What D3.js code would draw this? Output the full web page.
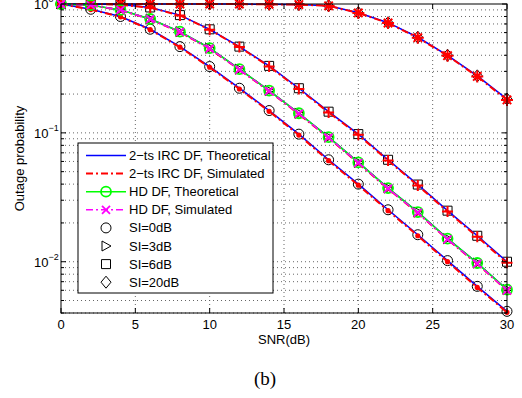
<!DOCTYPE html>
<html>
<head>
<meta charset="utf-8">
<script src="https://cdn.jsdelivr.net/npm/d3@7"></script>
<style>
  body { margin: 0; background: #fff; }
  text { font-family: Arial, "Liberation Sans", Helvetica, sans-serif; }
</style>
</head>
<body>
<div id="chart"></div>
<script>
// SNR points (dB)
const snr = [0, 2, 4, 6, 8, 10, 12, 14, 16, 18, 20, 22, 24, 26, 28, 30];

// 2-ts IRC DF, theoretical, one array per SI level
const ircTheo0 = [1.0, 0.91, 0.80, 0.637, 0.467, 0.327, 0.222, 0.149, 0.0977, 0.0618, 0.040, 0.0253, 0.0162, 0.0102, 0.00644, 0.00412];
const ircTheo3 = [1.0, 0.98, 0.90, 0.765, 0.61, 0.454, 0.312, 0.213, 0.142, 0.0926, 0.059, 0.0373, 0.0243, 0.0151, 0.00977, 0.00607];
const ircTheo6 = [1.0, 1.0, 0.99, 0.94, 0.82, 0.636, 0.467, 0.331, 0.222, 0.146, 0.0978, 0.0618, 0.0397, 0.0249, 0.0159, 0.0100];
const ircTheo20 = [1.0, 1.0, 1.0, 1.0, 1.0, 1.0, 0.999, 0.995, 0.99, 0.97, 0.856, 0.716, 0.552, 0.40, 0.277, 0.183];

// 2-ts IRC DF, simulated
const ircSim0 = [1.0, 0.905, 0.795, 0.632, 0.462, 0.323, 0.219, 0.147, 0.0962, 0.0608, 0.0393, 0.0249, 0.0159, 0.0100, 0.00632, 0.00405];
const ircSim3 = [1.0, 0.978, 0.897, 0.76, 0.605, 0.45, 0.309, 0.211, 0.140, 0.0915, 0.0582, 0.0368, 0.0239, 0.0149, 0.00962, 0.00598];
const ircSim6 = [1.0, 1.0, 0.988, 0.936, 0.815, 0.632, 0.463, 0.328, 0.219, 0.144, 0.0965, 0.0610, 0.0391, 0.0245, 0.0156, 0.0098];
const ircSim20 = [1.0, 1.0, 1.0, 1.0, 1.0, 1.0, 0.999, 0.994, 0.99, 0.968, 0.852, 0.712, 0.548, 0.397, 0.274, 0.180];

// HD DF
const hdTheo = [1.0, 0.98, 0.90, 0.765, 0.61, 0.454, 0.312, 0.213, 0.142, 0.0926, 0.059, 0.0373, 0.0243, 0.0151, 0.00977, 0.00607];
const hdSim = [1.0, 0.979, 0.899, 0.762, 0.607, 0.451, 0.31, 0.211, 0.141, 0.0918, 0.0585, 0.0369, 0.0240, 0.0149, 0.00965, 0.00600];

const xTicks = [0, 5, 10, 15, 20, 25, 30];
const yMajor = [1, 0.1, 0.01];
const yMinor = [0.004, 0.005, 0.006, 0.007, 0.008, 0.009,
  0.02, 0.03, 0.04, 0.05, 0.06, 0.07, 0.08, 0.09,
  0.2, 0.3, 0.4, 0.5, 0.6, 0.7, 0.8, 0.9];

const legendItems = [
  '2\u2212ts IRC DF, Theoretical',
  '2\u2212ts IRC DF, Simulated',
  'HD DF, Theoretical',
  'HD DF, Simulated',
  'SI=0dB', 'SI=3dB', 'SI=6dB', 'SI=20dB'
];

const width = 522, height = 398;
const plotL = 61, plotR = 507, plotT = 4, plotB = 313;

const svg = d3.select('#chart').append('svg')
  .attr('width', width).attr('height', height);
svg.append('rect').attr('width', width).attr('height', height).attr('fill', '#fff');

const x = d3.scaleLinear().domain([0, 30]).range([plotL, plotR]);
const y = d3.scaleLog().domain([0.004, 1]).range([plotB, plotT]);

// marker shapes (MATLAB-like)
function shape(type, s) {
  switch (type) {
    case 'circle': return `M${s},0A${s},${s} 0 1,1 ${-s},0A${s},${s} 0 1,1 ${s},0Z`;
    case 'square': return `M${-s},${-s}H${s}V${s}H${-s}Z`;
    case 'diamond': return `M0,${-s * 1.2}L${s},0L0,${s * 1.2}L${-s},0Z`;
    case 'triangle': return `M${-s * 0.8},${-s}L${s},0L${-s * 0.8},${s}Z`;
    case 'plus': return `M${-s},0H${s}M0,${-s}V${s}`;
    case 'x': return `M${-s},${-s}L${s},${s}M${-s},${s}L${s},${-s}`;
    case 'star': return `M${-s},0H${s}M0,${-s}V${s}M${-s * 0.7},${-s * 0.7}L${s * 0.7},${s * 0.7}M${-s * 0.7},${s * 0.7}L${s * 0.7},${-s * 0.7}`;
    case 'dot': return `M${s},0A${s},${s} 0 1,1 ${-s},0A${s},${s} 0 1,1 ${s},0Z`;
  }
}

// grid
const grid = svg.append('g').attr('stroke', '#555').attr('stroke-width', 0.9)
  .attr('stroke-dasharray', '1,3');
grid.selectAll('.gx').data(xTicks.slice(1, -1)).enter().append('line')
  .attr('x1', d => x(d)).attr('x2', d => x(d)).attr('y1', plotT).attr('y2', plotB);
grid.selectAll('.gy').data(yMajor.slice(1).concat(yMinor)).enter().append('line')
  .attr('x1', plotL).attr('x2', plotR).attr('y1', d => y(d)).attr('y2', d => y(d));

const lineGen = vals => d3.line().x((d, i) => x(snr[i])).y(d => y(d))(vals);

function markers(vals, type, size, stroke, fill, sw) {
  svg.append('g').selectAll('path').data(vals).enter().append('path')
    .attr('transform', (d, i) => `translate(${x(snr[i])},${y(d)})`)
    .attr('d', shape(type, size))
    .attr('fill', fill).attr('stroke', stroke).attr('stroke-width', sw);
}

// black SI markers
markers(ircTheo0, 'circle', 5, '#000', 'none', 1);
markers(ircTheo3, 'triangle', 5, '#000', 'none', 1);
markers(ircTheo6, 'square', 4.5, '#000', 'none', 1);
markers(ircTheo20, 'diamond', 5, '#000', 'none', 1);

// theoretical 2-ts IRC DF
[ircTheo0, ircTheo3, ircTheo6, ircTheo20].forEach(v => {
  svg.append('path').attr('d', lineGen(v)).attr('fill', 'none')
    .attr('stroke', '#0000ff').attr('stroke-width', 1.5);
});

// simulated 2-ts IRC DF
const simMarks = [['dot', 1.6], ['x', 4], ['plus', 5.5], ['star', 6]];
[ircSim0, ircSim3, ircSim6, ircSim20].forEach((v, k) => {
  svg.append('path').attr('d', lineGen(v)).attr('fill', 'none')
    .attr('stroke', '#ff0000').attr('stroke-width', 2)
    .attr('stroke-dasharray', '7,3,2,3');
  const isDot = simMarks[k][0] === 'dot';
  markers(v, simMarks[k][0], simMarks[k][1], '#ff0000', isDot ? '#ff0000' : 'none', 2);
});

// HD DF
svg.append('path').attr('d', lineGen(hdTheo)).attr('fill', 'none')
  .attr('stroke', '#00ff00').attr('stroke-width', 1.5);
markers(hdTheo, 'circle', 5, '#00ff00', 'none', 1.8);
svg.append('path').attr('d', lineGen(hdSim)).attr('fill', 'none')
  .attr('stroke', '#ff00ff').attr('stroke-width', 1.5)
  .attr('stroke-dasharray', '7,3,2,3');
markers(hdSim, 'x', 4, '#ff00ff', 'none', 1.8);

// axes box and ticks
svg.append('rect').attr('x', plotL).attr('y', plotT)
  .attr('width', plotR - plotL).attr('height', plotB - plotT)
  .attr('fill', 'none').attr('stroke', '#000').attr('stroke-width', 1);

const ticks = svg.append('g').attr('stroke', '#000').attr('stroke-width', 1);
xTicks.forEach(t => {
  ticks.append('line').attr('x1', x(t)).attr('x2', x(t)).attr('y1', plotB).attr('y2', plotB - 5);
  ticks.append('line').attr('x1', x(t)).attr('x2', x(t)).attr('y1', plotT).attr('y2', plotT + 5);
});
yMajor.forEach(t => {
  ticks.append('line').attr('x1', plotL).attr('x2', plotL + 5).attr('y1', y(t)).attr('y2', y(t));
  ticks.append('line').attr('x1', plotR).attr('x2', plotR - 5).attr('y1', y(t)).attr('y2', y(t));
});
yMinor.forEach(t => {
  ticks.append('line').attr('x1', plotL).attr('x2', plotL + 3).attr('y1', y(t)).attr('y2', y(t));
  ticks.append('line').attr('x1', plotR).attr('x2', plotR - 3).attr('y1', y(t)).attr('y2', y(t));
});

// tick labels
svg.append('g').selectAll('text').data(xTicks).enter().append('text')
  .attr('x', d => x(d)).attr('y', plotB + 16)
  .attr('text-anchor', 'middle').attr('font-size', 13).text(d => d);

const yl = svg.append('g').selectAll('text').data(yMajor).enter().append('text')
  .attr('x', 34).attr('y', d => y(d) + 5).attr('font-size', 13);
yl.append('tspan').text('10');
yl.append('tspan').attr('dy', -7).attr('font-size', 9)
  .text(d => d === 1 ? '0' : '\u2212' + Math.round(-Math.log10(d)));

// axis titles
svg.append('text').attr('x', (plotL + plotR) / 2).attr('y', plotB + 31)
  .attr('text-anchor', 'middle').attr('font-size', 13).text('SNR(dB)');
svg.append('text').attr('transform', `translate(24,${(plotT + plotB) / 2}) rotate(-90)`)
  .attr('text-anchor', 'middle').attr('font-size', 13).text('Outage probability');

// caption
svg.append('text').attr('x', 265).attr('y', 385).attr('text-anchor', 'middle')
  .attr('font-size', 19).style('font-family', '"Liberation Serif", "Times New Roman", serif')
  .text('(b)');

// legend
const lg = svg.append('g');
lg.append('rect').attr('x', 78).attr('y', 143).attr('width', 195).attr('height', 150)
  .attr('fill', '#fff').attr('stroke', '#000').attr('stroke-width', 1);
const legendStyle = [
  {stroke: '#0000ff', dash: null},
  {stroke: '#ff0000', dash: '7,3,2,3', w: 2},
  {stroke: '#00ff00', dash: null, mark: 'circle', ms: 5},
  {stroke: '#ff00ff', dash: '7,3,2,3', mark: 'x', ms: 4},
  {mark: 'circle', ms: 5},
  {mark: 'triangle', ms: 5},
  {mark: 'square', ms: 4.5},
  {mark: 'diamond', ms: 5}
];
legendItems.forEach((name, i) => {
  const ly = 155.5 + i * 18.1;
  const st = legendStyle[i];
  if (st.stroke) {
    lg.append('line').attr('x1', 86).attr('x2', 126).attr('y1', ly).attr('y2', ly)
      .attr('stroke', st.stroke).attr('stroke-width', st.w || 1.5)
      .attr('stroke-dasharray', st.dash);
  }
  if (st.mark) {
    lg.append('path').attr('transform', `translate(106,${ly})`)
      .attr('d', shape(st.mark, st.ms)).attr('fill', 'none')
      .attr('stroke', st.stroke || '#000').attr('stroke-width', st.stroke ? 1.8 : 1);
  }
  lg.append('text').attr('x', 129).attr('y', ly + 4.5).attr('font-size', 13).text(name);
});
</script>
</body>
</html>
